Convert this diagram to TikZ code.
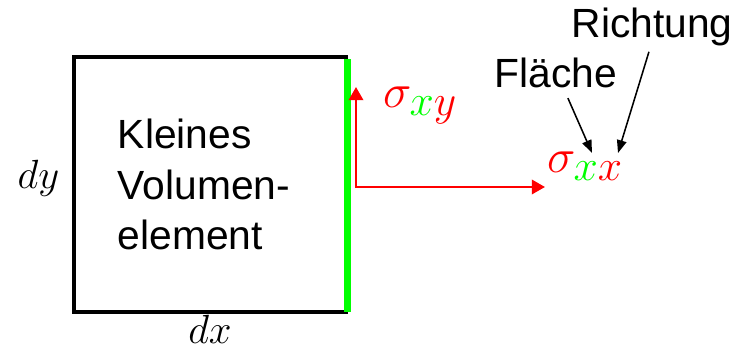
\RequirePackage{fix-cm}
\documentclass[tikz,border=0pt]{standalone}
\usepackage{xcolor}
\usepackage{fontspec}
\setmainfont{Liberation Sans}
\usetikzlibrary{arrows.meta,positioning}
\definecolor{EdgeGreen}{HTML}{00FF00}
\definecolor{StressRed}{HTML}{FF0000}
\DeclareMathSizes{34}{34}{31}{20}

\begin{document}
\begin{tikzpicture}[
    x=0.025cm, y=-0.025cm,
    font=\fontsize{29}{36}\selectfont,
    volbox/.style={
        draw,
        line width=2.4pt,
        minimum width=6.8cm,
        minimum height=6.375cm
    },
    lbl/.style={inner sep=1pt},
    sigmalbl/.style={inner sep=2pt, anchor=base west, text=StressRed, font=\fontsize{34}{40}\selectfont},
    stressarrow/.style={{Triangle[length=0.33cm,width=0.36cm]}-{Triangle[length=0.33cm,width=0.36cm]}, line width=1.6pt, draw=StressRed},
    pointer/.style={-{Triangle[length=0.32cm,width=0.24cm]}, line width=1.1pt}
]
    \useasboundingbox (0,0) rectangle (738,354);

    \node[volbox] (vol) at (210,184.5) {};
    \node[align=left] (voltext) at (204,184.5) {Kleines\\Volumen-\\element};
    \draw[line width=5pt, EdgeGreen, shorten <=3pt, shorten >=1pt] (vol.north east) -- (vol.south east);

    \node[lbl, left=8pt of vol, yshift=0.15cm] (dy) {$dy$};
    \node[lbl, below=0pt of vol] (dx) {$dx$};

    % Spannungspfeile
    \coordinate (corner) at (356,187);
    \coordinate (uptip) at (356,87);
    \coordinate (righttip) at (545,187);
    \draw[stressarrow] (uptip) -- (corner) -- (righttip);

    \node[sigmalbl] (sxy) at (380,108) {$\sigma_{\color{EdgeGreen}x\color{StressRed}y}$};
    \node[sigmalbl] (sxx) at (544,173) {$\sigma_{\color{EdgeGreen}x\color{StressRed}x}$};

    \node[lbl, anchor=base west] (richtung) at (570,38) {Richtung};
    \node[lbl, anchor=base west] (flaeche) at (493,88) {Fläche};

    \coordinate (fx) at (592,153);
    \coordinate (rx) at (618,153);
    \draw[pointer] ([xshift=0.3cm,yshift=-0.2cm]flaeche.south) -- (fx);
    \draw[pointer] ([xshift=-0.08cm,yshift=-0.09cm]richtung.south) -- (rx);
\end{tikzpicture}
\end{document}
